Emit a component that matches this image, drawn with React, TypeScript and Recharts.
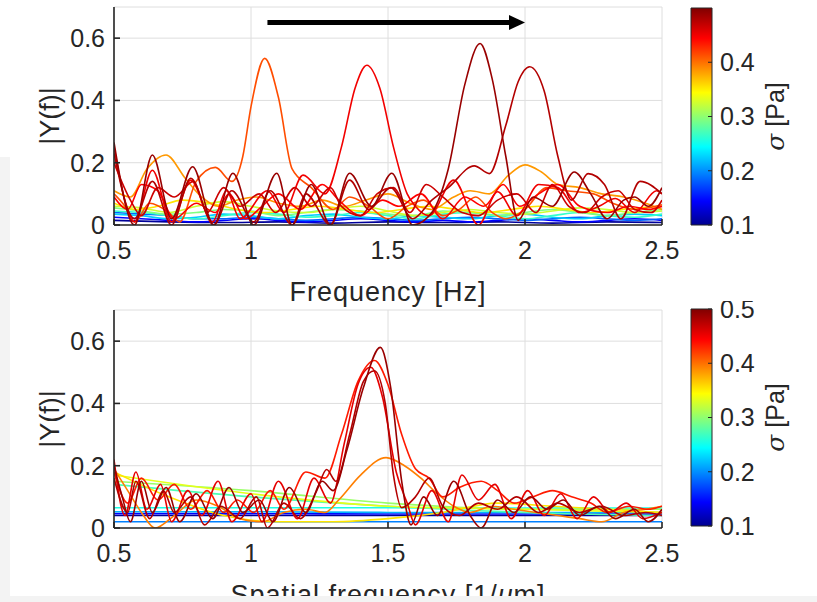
import { LineChart, Line, XAxis, YAxis, CartesianGrid, ReferenceLine, ReferenceDot, BarChart, Bar, Label } from 'recharts';

type Pt = [number, number];

// ---- axis ticks ----
const xTicks = [0.5, 1, 1.5, 2, 2.5];
const yTicks = [0, 0.2, 0.4, 0.6];
const sigmaTicksTop = [0.1, 0.2, 0.3, 0.4];
const sigmaTicksBottom = [0.1, 0.2, 0.3, 0.4, 0.5];
const sigmaRange = [{ name: 'sigma', range: [0.1, 0.5] }];

// ---- temporal spectra (|Y(f)| vs frequency), one trace per stress level ----
const freqSigma11: Pt[] = [[0.5, 0.015], [0.7, 0.01], [0.9, 0.008], [1.1, 0.01], [1.3, 0.006], [1.5, 0.01], [1.7, 0.008], [1.9, 0.01], [2.1, 0.006], [2.3, 0.01], [2.5, 0.008]];
const freqSigma15: Pt[] = [[0.5, 0.025], [0.6, 0.02], [0.7, 0.015], [0.8, 0.01], [0.9, 0.015], [1.0, 0.02], [1.1, 0.015], [1.2, 0.01], [1.3, 0.015], [1.4, 0.02], [1.5, 0.015], [1.6, 0.01], [1.7, 0.015], [1.8, 0.01], [1.9, 0.015], [2.0, 0.02], [2.1, 0.015], [2.2, 0.01], [2.3, 0.015], [2.4, 0.02], [2.5, 0.015]];
const freqSigma19: Pt[] = [[0.5, 0.04], [0.6, 0.035], [0.7, 0.03], [0.8, 0.02], [0.9, 0.02], [1.0, 0.025], [1.1, 0.02], [1.2, 0.015], [1.3, 0.02], [1.4, 0.025], [1.5, 0.02], [1.6, 0.015], [1.7, 0.02], [1.8, 0.025], [1.9, 0.02], [2.0, 0.015], [2.1, 0.02], [2.2, 0.025], [2.3, 0.02], [2.4, 0.015], [2.5, 0.02]];
const freqSigma23: Pt[] = [[0.5, 0.035], [0.6, 0.03], [0.7, 0.02], [0.8, 0.025], [0.9, 0.035], [1.0, 0.03], [1.1, 0.02], [1.2, 0.03], [1.3, 0.035], [1.4, 0.025], [1.5, 0.02], [1.6, 0.03], [1.7, 0.025], [1.8, 0.02], [1.9, 0.03], [2.0, 0.035], [2.1, 0.025], [2.2, 0.02], [2.3, 0.03], [2.4, 0.035], [2.5, 0.03]];
const freqSigma27: Pt[] = [[0.5, 0.045], [0.6, 0.04], [0.7, 0.03], [0.8, 0.02], [0.9, 0.03], [1.0, 0.04], [1.1, 0.035], [1.2, 0.025], [1.3, 0.03], [1.4, 0.04], [1.5, 0.03], [1.6, 0.02], [1.7, 0.035], [1.8, 0.04], [1.9, 0.03], [2.0, 0.02], [2.1, 0.03], [2.2, 0.04], [2.3, 0.03], [2.4, 0.025], [2.5, 0.035]];
const freqSigma30: Pt[] = [[0.5, 0.055], [0.6, 0.045], [0.7, 0.035], [0.8, 0.04], [0.9, 0.05], [1.0, 0.045], [1.1, 0.03], [1.2, 0.04], [1.3, 0.05], [1.4, 0.045], [1.5, 0.035], [1.6, 0.03], [1.7, 0.045], [1.8, 0.04], [1.9, 0.03], [2.0, 0.04], [2.1, 0.05], [2.2, 0.04], [2.3, 0.03], [2.4, 0.04], [2.5, 0.05]];
const freqSigma33: Pt[] = [[0.5, 0.06], [0.6, 0.055], [0.7, 0.04], [0.8, 0.06], [0.9, 0.075], [1.0, 0.06], [1.1, 0.045], [1.2, 0.04], [1.3, 0.05], [1.4, 0.06], [1.5, 0.045], [1.6, 0.03], [1.7, 0.04], [1.8, 0.05], [1.9, 0.04], [2.0, 0.035], [2.1, 0.045], [2.2, 0.055], [2.3, 0.05], [2.4, 0.04], [2.5, 0.045]];
const freqSigma36: Pt[] = [[0.5, 0.07], [0.58, 0.05], [0.66, 0.06], [0.75, 0.08], [0.85, 0.07], [0.95, 0.05], [1.05, 0.04], [1.15, 0.05], [1.25, 0.06], [1.35, 0.05], [1.45, 0.04], [1.55, 0.05], [1.65, 0.06], [1.75, 0.05], [1.85, 0.04], [1.95, 0.05], [2.05, 0.06], [2.15, 0.05], [2.25, 0.04], [2.35, 0.05], [2.5, 0.06]];
const freqSigma39: Pt[] = [[0.5, 0.11], [0.56, 0.09], [0.62, 0.18], [0.69, 0.225], [0.76, 0.15], [0.82, 0.09], [0.88, 0.06], [0.95, 0.08], [1.02, 0.09], [1.1, 0.07], [1.18, 0.06], [1.26, 0.08], [1.34, 0.06], [1.42, 0.08], [1.5, 0.1], [1.58, 0.07], [1.66, 0.05], [1.74, 0.09], [1.8, 0.11], [1.87, 0.1], [1.94, 0.16], [2.0, 0.193], [2.06, 0.17], [2.12, 0.13], [2.2, 0.12], [2.28, 0.1], [2.36, 0.09], [2.44, 0.07], [2.5, 0.05]];
const freqSigma42: Pt[] = [[0.5, 0.1], [0.54, 0.06], [0.575, 0.01], [0.63, 0.07], [0.7, 0.04], [0.74, 0.01], [0.8, 0.14], [0.87, 0.185], [0.93, 0.14], [0.97, 0.22], [1.0, 0.38], [1.05, 0.535], [1.1, 0.41], [1.15, 0.18], [1.22, 0.12], [1.3, 0.05], [1.36, 0.09], [1.43, 0.06], [1.5, 0.02], [1.57, 0.06], [1.63, 0.08], [1.7, 0.03], [1.76, 0.05], [1.82, 0.09], [1.88, 0.04], [1.93, 0.02], [2.0, 0.05], [2.08, 0.12], [2.15, 0.11], [2.25, 0.1], [2.32, 0.07], [2.4, 0.05], [2.5, 0.065]];
const freqSigma45: Pt[] = [[0.5, 0.09], [0.55, 0.05], [0.6, 0.13], [0.66, 0.11], [0.72, 0.02], [0.8, 0.07], [0.87, 0.04], [0.92, 0.1], [0.98, 0.02], [1.04, 0.06], [1.1, 0.1], [1.18, 0.05], [1.26, 0.13], [1.32, 0.08], [1.4, 0.03], [1.48, 0.08], [1.54, 0.06], [1.62, 0.1], [1.7, 0.02], [1.78, 0.09], [1.85, 0.06], [1.92, 0.13], [1.98, 0.06], [2.05, 0.1], [2.12, 0.13], [2.2, 0.06], [2.3, 0.04], [2.38, 0.06], [2.45, 0.05], [2.5, 0.06]];
const freqSigma46: Pt[] = [[0.5, 0.25], [0.575, 0.01], [0.64, 0.176], [0.71, 0.01], [0.78, 0.144], [0.86, 0.01], [0.91, 0.11], [0.96, 0.02], [1.06, 0.11], [1.12, 0.04], [1.19, 0.16], [1.27, 0.1], [1.33, 0.25], [1.38, 0.44], [1.423, 0.513], [1.47, 0.44], [1.52, 0.25], [1.57, 0.1], [1.6, 0.06], [1.65, 0.03], [1.74, 0.144], [1.83, 0.0], [1.9, 0.107], [1.97, 0.03], [2.05, 0.13], [2.12, 0.12], [2.2, 0.04], [2.27, 0.06], [2.33, 0.085], [2.4, 0.04], [2.48, 0.11], [2.5, 0.1]];
const freqSigma47: Pt[] = [[0.5, 0.2], [0.56, 0.08], [0.6, 0.03], [0.66, 0.12], [0.72, 0.09], [0.79, 0.14], [0.84, 0.04], [0.9, 0.12], [0.96, 0.06], [1.03, 0.1], [1.09, 0.04], [1.16, 0.12], [1.22, 0.06], [1.29, 0.12], [1.33, 0.06], [1.4, 0.03], [1.46, 0.1], [1.52, 0.12], [1.58, 0.04], [1.64, 0.13], [1.7, 0.09], [1.77, 0.04], [1.83, 0.03], [1.9, 0.08], [1.97, 0.1], [2.04, 0.04], [2.1, 0.13], [2.16, 0.06], [2.22, 0.04], [2.28, 0.09], [2.34, 0.11], [2.4, 0.05], [2.46, 0.04], [2.5, 0.08]];
const freqSigma48: Pt[] = [[0.5, 0.23], [0.575, 0.02], [0.64, 0.14], [0.71, 0.0], [0.78, 0.15], [0.864, 0.0], [0.93, 0.11], [1.01, 0.01], [1.07, 0.11], [1.15, 0.0], [1.2, 0.1], [1.29, 0.0], [1.36, 0.144], [1.43, 0.05], [1.51, 0.12], [1.59, 0.02], [1.66, 0.08], [1.72, 0.12], [1.815, 0.19], [1.87, 0.165], [1.93, 0.32], [1.975, 0.46], [2.017, 0.508], [2.07, 0.43], [2.12, 0.22], [2.17, 0.08], [2.23, 0.165], [2.29, 0.13], [2.35, 0.02], [2.42, 0.14], [2.5, 0.1]];
const freqSigma49: Pt[] = [[0.5, 0.265], [0.575, 0.0], [0.64, 0.225], [0.71, 0.02], [0.787, 0.187], [0.864, 0.0], [0.934, 0.166], [1.01, 0.0], [1.094, 0.166], [1.15, 0.0], [1.22, 0.13], [1.29, 0.0], [1.36, 0.166], [1.44, 0.06], [1.514, 0.166], [1.59, 0.0], [1.66, 0.04], [1.72, 0.18], [1.78, 0.45], [1.836, 0.583], [1.88, 0.47], [1.93, 0.22], [1.975, 0.015], [2.03, 0.09], [2.1, 0.06], [2.18, 0.17], [2.24, 0.1], [2.3, 0.02], [2.36, 0.08], [2.4, 0.09], [2.45, 0.06], [2.5, 0.12]];

// ---- spatial spectra (|Y(f)| vs spatial frequency) ----
const spatSigma11: Pt[] = [[0.5, 0.04], [1.0, 0.04], [1.5, 0.04], [2.0, 0.04], [2.5, 0.04]];
const spatSigma15: Pt[] = [[0.5, 0.046], [1.0, 0.046], [1.5, 0.045], [2.0, 0.045], [2.5, 0.045]];
const spatSigma20: Pt[] = [[0.5, 0.02], [1.0, 0.02], [1.5, 0.02], [2.0, 0.02], [2.5, 0.02]];
const spatSigma22: Pt[] = [[0.5, 0.052], [1.0, 0.052], [1.5, 0.05], [2.0, 0.05], [2.5, 0.05]];
const spatSigma26: Pt[] = [[0.5, 0.065], [1.0, 0.065], [1.5, 0.065], [2.0, 0.064], [2.5, 0.064]];
const spatSigma28: Pt[] = [[0.5, 0.14], [1.0, 0.1], [1.5, 0.07], [2.0, 0.05], [2.5, 0.04]];
const spatSigma31: Pt[] = [[0.5, 0.15], [1.0, 0.12], [1.5, 0.08], [2.0, 0.06], [2.5, 0.06]];
const spatSigma34: Pt[] = [[0.5, 0.17], [1.0, 0.11], [1.5, 0.07], [2.0, 0.06], [2.5, 0.05]];
const spatSigma36: Pt[] = [[0.5, 0.18], [0.7, 0.1], [0.9, 0.04], [1.1, 0.02], [1.3, 0.02], [1.5, 0.03], [1.7, 0.05], [1.9, 0.08], [2.1, 0.07], [2.3, 0.06], [2.5, 0.05]];
const spatSigma40: Pt[] = [[0.5, 0.19], [0.55, 0.12], [0.6, 0.05], [0.65, 0.0], [0.72, 0.04], [0.8, 0.09], [0.88, 0.07], [0.96, 0.03], [1.04, 0.02], [1.12, 0.05], [1.2, 0.06], [1.27, 0.05], [1.32, 0.09], [1.4, 0.17], [1.493, 0.226], [1.56, 0.2], [1.62, 0.16], [1.68, 0.11], [1.74, 0.07], [1.8, 0.05], [1.88, 0.07], [1.96, 0.06], [2.04, 0.05], [2.12, 0.04], [2.2, 0.03], [2.28, 0.02], [2.36, 0.05], [2.44, 0.06], [2.5, 0.07]];
const spatSigma44: Pt[] = [[0.5, 0.18], [0.55, 0.08], [0.6, 0.16], [0.66, 0.09], [0.72, 0.14], [0.78, 0.06], [0.84, 0.12], [0.9, 0.05], [0.95, 0.09], [1.01, 0.05], [1.07, 0.12], [1.12, 0.06], [1.2, 0.18], [1.27, 0.16], [1.33, 0.3], [1.39, 0.47], [1.451, 0.538], [1.5, 0.46], [1.55, 0.3], [1.6, 0.19], [1.65, 0.16], [1.7, 0.1], [1.76, 0.13], [1.84, 0.15], [1.9, 0.12], [1.96, 0.08], [2.03, 0.1], [2.1, 0.12], [2.17, 0.1], [2.24, 0.08], [2.3, 0.05], [2.38, 0.07], [2.45, 0.06], [2.5, 0.07]];
const spatSigma46: Pt[] = [[0.5, 0.22], [0.54, 0.04], [0.58, 0.18], [0.62, 0.06], [0.67, 0.14], [0.71, 0.02], [0.77, 0.12], [0.82, 0.04], [0.88, 0.15], [0.93, 0.02], [1.0, 0.11], [1.04, 0.02], [1.1, 0.15], [1.17, 0.03], [1.23, 0.16], [1.29, 0.08], [1.34, 0.27], [1.39, 0.46], [1.437, 0.516], [1.48, 0.42], [1.53, 0.18], [1.57, 0.08], [1.6, 0.01], [1.66, 0.12], [1.72, 0.02], [1.77, 0.17], [1.83, 0.09], [1.89, 0.14], [1.95, 0.03], [2.01, 0.12], [2.07, 0.04], [2.13, 0.11], [2.19, 0.03], [2.25, 0.1], [2.31, 0.05], [2.37, 0.08], [2.43, 0.03], [2.5, 0.05]];
const spatSigma48: Pt[] = [[0.5, 0.16], [0.55, 0.05], [0.58, 0.15], [0.63, 0.03], [0.68, 0.12], [0.72, 0.05], [0.78, 0.1], [0.83, 0.01], [0.89, 0.07], [0.96, 0.03], [1.02, 0.1], [1.06, 0.0], [1.12, 0.08], [1.18, 0.03], [1.24, 0.12], [1.276, 0.188], [1.31, 0.15], [1.36, 0.3], [1.41, 0.47], [1.45, 0.505], [1.49, 0.4], [1.52, 0.17], [1.55, 0.065], [1.6, 0.1], [1.65, 0.16], [1.7, 0.07], [1.76, 0.04], [1.83, 0.08], [1.9, 0.06], [1.97, 0.1], [2.05, 0.05], [2.12, 0.08], [2.2, 0.05], [2.28, 0.07], [2.36, 0.04], [2.44, 0.05], [2.5, 0.04]];
const spatSigma49: Pt[] = [[0.5, 0.2], [0.53, 0.1], [0.56, 0.02], [0.6, 0.15], [0.64, 0.05], [0.69, 0.13], [0.74, 0.02], [0.8, 0.11], [0.86, 0.03], [0.92, 0.13], [0.97, 0.05], [1.03, 0.09], [1.08, 0.02], [1.14, 0.13], [1.2, 0.05], [1.26, 0.15], [1.3, 0.12], [1.35, 0.25], [1.41, 0.45], [1.472, 0.58], [1.51, 0.45], [1.55, 0.15], [1.584, 0.01], [1.63, 0.1], [1.68, 0.04], [1.74, 0.15], [1.8, 0.04], [1.84, 0.0], [1.9, 0.09], [1.96, 0.05], [2.02, 0.1], [2.08, 0.06], [2.14, 0.09], [2.2, 0.04], [2.27, 0.07], [2.33, 0.03], [2.4, 0.06], [2.45, 0.02], [2.5, 0.06]];

type Trace = { sigma: number; points: Pt[] };

const freqTraces: Trace[] = [
  { sigma: 0.11, points: freqSigma11 },
  { sigma: 0.15, points: freqSigma15 },
  { sigma: 0.19, points: freqSigma19 },
  { sigma: 0.23, points: freqSigma23 },
  { sigma: 0.27, points: freqSigma27 },
  { sigma: 0.3, points: freqSigma30 },
  { sigma: 0.33, points: freqSigma33 },
  { sigma: 0.36, points: freqSigma36 },
  { sigma: 0.39, points: freqSigma39 },
  { sigma: 0.42, points: freqSigma42 },
  { sigma: 0.45, points: freqSigma45 },
  { sigma: 0.455, points: freqSigma46 },
  { sigma: 0.47, points: freqSigma47 },
  { sigma: 0.48, points: freqSigma48 },
  { sigma: 0.49, points: freqSigma49 },
];

const spatTraces: Trace[] = [
  { sigma: 0.11, points: spatSigma11 },
  { sigma: 0.15, points: spatSigma15 },
  { sigma: 0.2, points: spatSigma20 },
  { sigma: 0.22, points: spatSigma22 },
  { sigma: 0.26, points: spatSigma26 },
  { sigma: 0.28, points: spatSigma28 },
  { sigma: 0.31, points: spatSigma31 },
  { sigma: 0.34, points: spatSigma34 },
  { sigma: 0.36, points: spatSigma36 },
  { sigma: 0.4, points: spatSigma40 },
  { sigma: 0.44, points: spatSigma44 },
  { sigma: 0.46, points: spatSigma46 },
  { sigma: 0.48, points: spatSigma48 },
  { sigma: 0.49, points: spatSigma49 },
];

// arrow across the top panel (data coordinates)
const arrowY = 0.65;
const arrowFrom = 1.06;
const arrowTip = 2.0;

const FONT = '"Liberation Sans", Arial, Helvetica, sans-serif';
const INK = '#262626';
const SIGMA_MIN = 0.1;
const SIGMA_MAX = 0.5;

// MATLAB-style jet colormap
const jet = (s: number) => {
  const t = (s - SIGMA_MIN) / (SIGMA_MAX - SIGMA_MIN);
  const c = (v: number) => Math.round(255 * Math.max(0, Math.min(1, v)));
  return `rgb(${c(1.5 - Math.abs(4 * t - 3))},${c(1.5 - Math.abs(4 * t - 2))},${c(1.5 - Math.abs(4 * t - 1))})`;
};
const jetStops: [number, string][] = [
  [0, '#00008f'],
  [0.11, '#0000ff'],
  [0.36, '#00ffff'],
  [0.61, '#ffff00'],
  [0.86, '#ff0000'],
  [1, '#800000'],
];

type Part = { text: string; italic?: boolean };

const xTitle = (parts: Part[]) => (props: any) => {
  const vb = props.viewBox;
  return (
    <text x={vb.x + vb.width / 2} y={vb.y + 76} textAnchor='middle' fontSize={27} fill={INK} letterSpacing={1}>
      {parts.map((p, i) => (
        <tspan key={i} fontStyle={p.italic ? 'italic' : 'normal'}>{p.text}</tspan>
      ))}
    </text>
  );
};

const yTitle = (props: any) => {
  const vb = props.viewBox;
  const x = 50;
  const y = vb.y + vb.height / 2;
  return (
    <text x={x} y={y} transform={`rotate(-90 ${x} ${y})`} textAnchor='middle' dominantBaseline='central' fontSize={27} fill={INK}>
      |Y(f)|
    </text>
  );
};

const sigmaTitle = (props: any) => {
  const vb = props.viewBox;
  const x = vb.x + 63;
  const y = vb.y + vb.height / 2;
  return (
    <text x={x} y={y} transform={`rotate(-90 ${x} ${y})`} textAnchor='middle' dominantBaseline='central' fontSize={25} fill={INK}>
      <tspan fontStyle='italic' fontFamily='"DejaVu Serif", serif'>σ</tspan> [Pa]
    </text>
  );
};

const ArrowHead = (props: any) => {
  const { cx, cy } = props;
  return <polygon points={`${cx},${cy} ${cx - 16},${cy - 7.5} ${cx - 16},${cy + 7.5}`} fill='#000' />;
};

const Panel = ({ traces, title, arrow }: { traces: Trace[]; title: Part[]; arrow?: boolean }) => (
  <LineChart width={690} height={310} margin={{ top: 7, right: 28, bottom: 0, left: 0 }}>
    <CartesianGrid stroke='#dedede' strokeWidth={1} />
    <XAxis
      type='number'
      dataKey='x'
      domain={[0.5, 2.5]}
      ticks={xTicks}
      interval={0}
      allowDataOverflow
      height={85}
      tickSize={-6}
      tickMargin={22}
      stroke={INK}
      strokeWidth={1.6}
      tick={{ fontSize: 25, fill: INK }}
    >
      <Label content={xTitle(title)} />
    </XAxis>
    <XAxis xAxisId='top' orientation='top' type='number' domain={[0.5, 2.5]} ticks={xTicks} allowDataOverflow height={0} tick={false} tickSize={-6} stroke={INK} strokeWidth={1.6} />
    <YAxis
      type='number'
      domain={[0, 0.7]}
      ticks={yTicks}
      interval={0}
      allowDataOverflow
      width={114}
      tickSize={-6}
      tickMargin={15}
      stroke={INK}
      strokeWidth={1.6}
      tick={{ fontSize: 25, fill: INK }}
    >
      <Label content={yTitle} />
    </YAxis>
    <YAxis yAxisId='right' orientation='right' type='number' domain={[0, 0.7]} ticks={yTicks} allowDataOverflow width={0} tick={false} tickSize={-6} stroke={INK} strokeWidth={1.6} />
    {traces.map((t, i) => (
      <Line
        key={i}
        data={t.points.map(([x, y]) => ({ x, y }))}
        dataKey='y'
        type='monotone'
        stroke={jet(t.sigma)}
        strokeWidth={1.6}
        dot={false}
        activeDot={false}
        isAnimationActive={false}
      />
    ))}
    {arrow && (
      <ReferenceLine segment={[{ x: arrowFrom, y: arrowY }, { x: arrowTip - 0.055, y: arrowY }]} stroke='#000' strokeWidth={5} />
    )}
    {arrow && <ReferenceDot x={arrowTip} y={arrowY} r={0} shape={ArrowHead} />}
  </LineChart>
);

const ColorBar = ({ ticks, gradId }: { ticks: number[]; gradId: string }) => (
  <BarChart width={137} height={310} data={sigmaRange} margin={{ top: 8, right: 0, bottom: 85, left: 11 }} barCategoryGap={0}>
    <defs>
      <linearGradient id={gradId} x1='0' y1='1' x2='0' y2='0'>
        {jetStops.map(([o, c]) => (
          <stop key={o} offset={o} stopColor={c} />
        ))}
      </linearGradient>
    </defs>
    <XAxis dataKey='name' hide />
    <YAxis
      orientation='right'
      type='number'
      domain={[SIGMA_MIN, SIGMA_MAX]}
      ticks={ticks}
      interval={0}
      width={105}
      axisLine={false}
      tickSize={-4}
      tickMargin={12}
      stroke={INK}
      tick={{ fontSize: 25, fill: INK }}
    >
      <Label content={sigmaTitle} />
    </YAxis>
    <Bar dataKey='range' fill={`url(#${gradId})`} stroke={INK} strokeWidth={1} isAnimationActive={false} />
  </BarChart>
);

export default function App() {
  return (
    <div style={{ position: 'absolute', left: 0, top: 0, width: 817, height: 602, background: '#fff', fontFamily: FONT, overflow: 'hidden' }}>
      <div style={{ position: 'absolute', left: 0, top: 0 }}>
        <Panel traces={freqTraces} title={[{ text: 'Frequency [Hz]' }]} arrow />
      </div>
      <div style={{ position: 'absolute', left: 0, top: 303 }}>
        <Panel traces={spatTraces} title={[{ text: 'Spatial frequency [1/' }, { text: 'μ', italic: true }, { text: 'm]' }]} />
      </div>
      <div style={{ position: 'absolute', left: 680, top: 0 }}>
        <ColorBar ticks={sigmaTicksTop} gradId='jetTop' />
      </div>
      <div style={{ position: 'absolute', left: 680, top: 301 }}>
        <ColorBar ticks={sigmaTicksBottom} gradId='jetBottom' />
      </div>
      <div style={{ position: 'absolute', left: 0, top: 157, width: 10, height: 445, background: '#f3f3f3' }} />
      <div style={{ position: 'absolute', left: 0, top: 596, width: 817, height: 6, background: '#f3f3f3' }} />
    </div>
  );
}
